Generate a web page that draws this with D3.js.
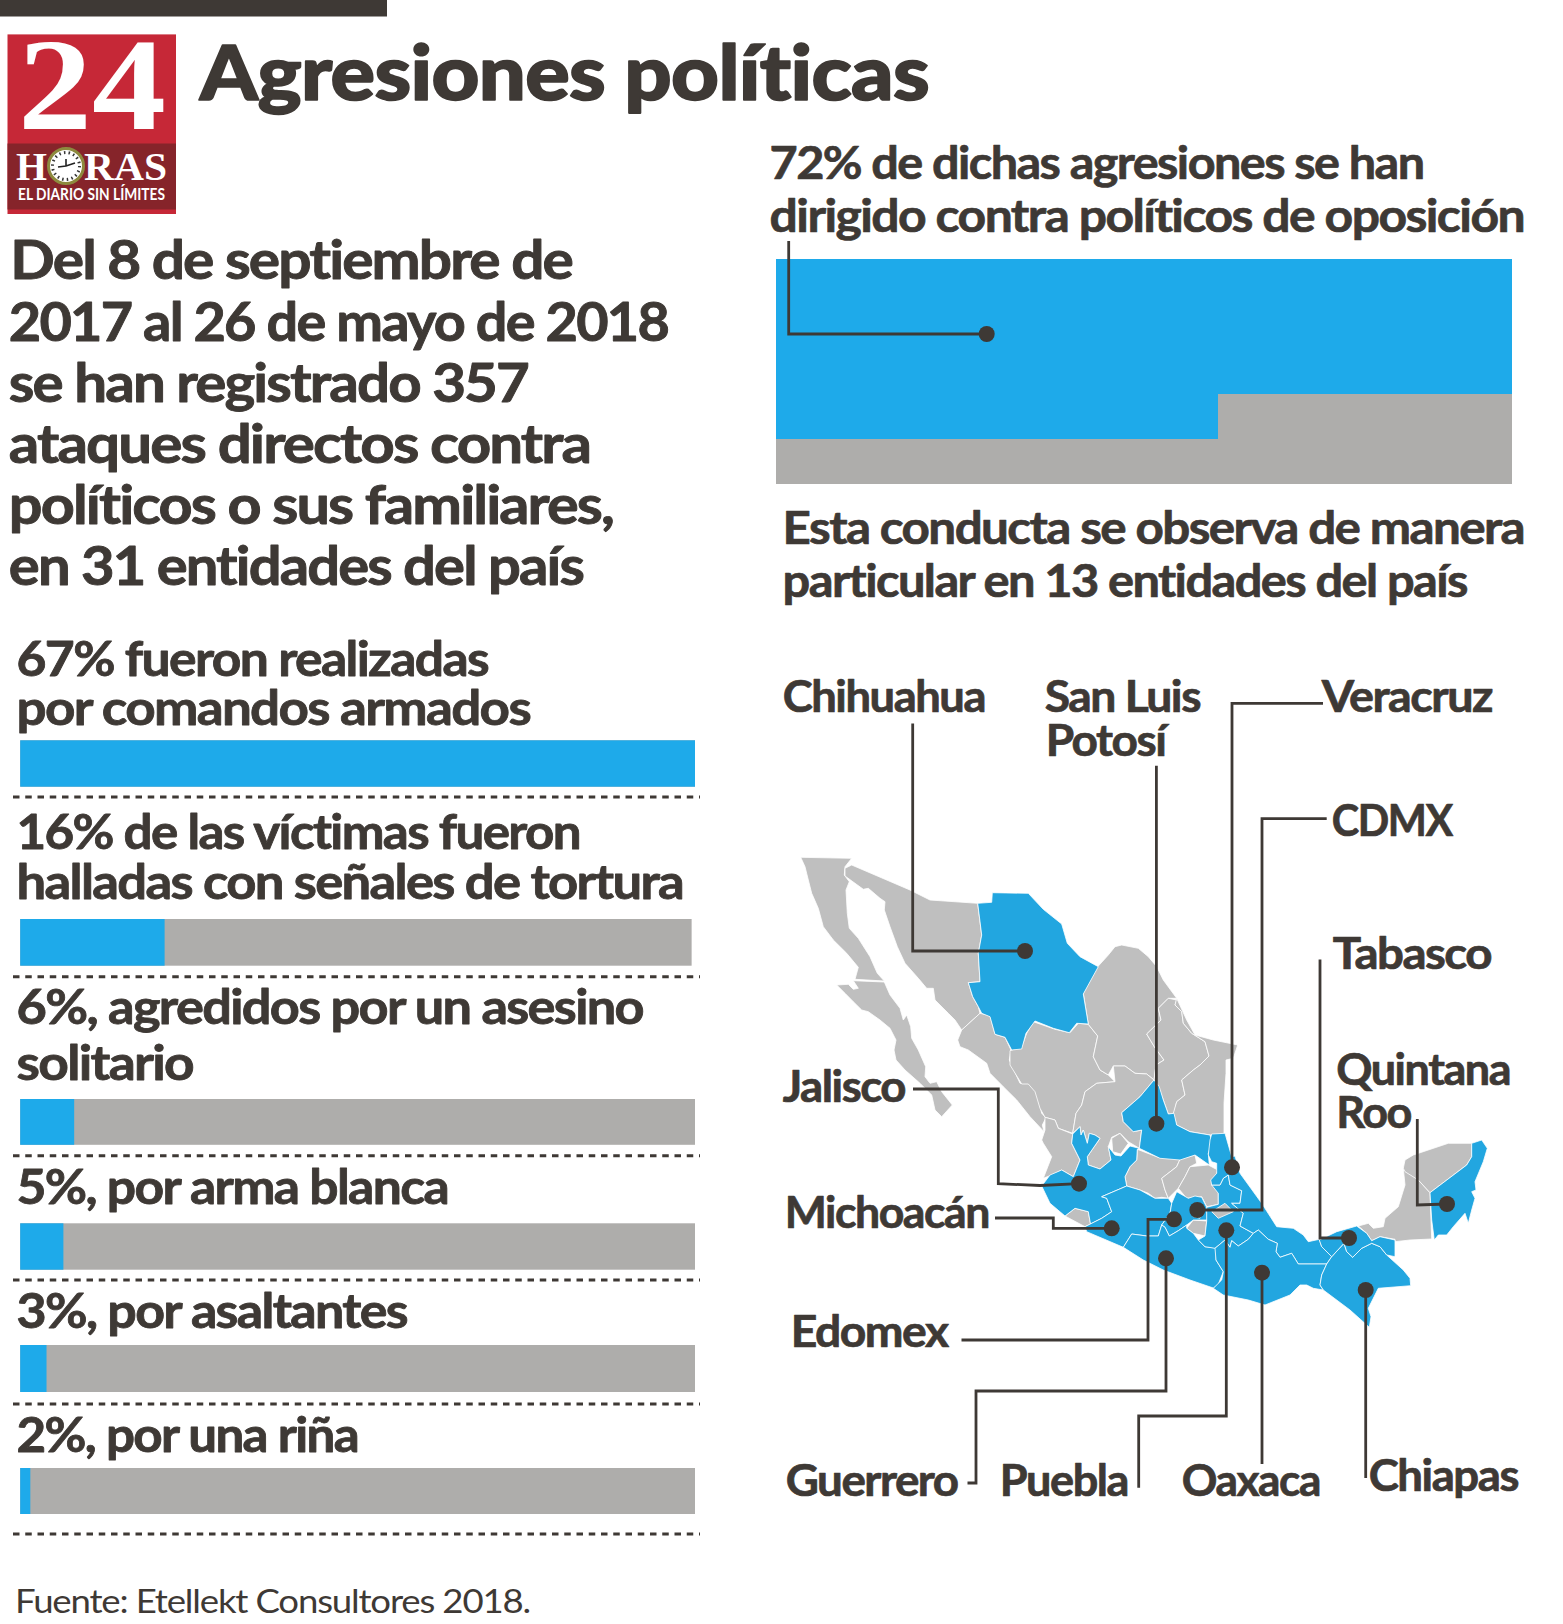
<!DOCTYPE html>
<html>
<head>
<meta charset="utf-8">
<script src="https://d3js.org/d3.v7.min.js"></script>
<style>
  html, body { margin: 0; padding: 0; background: #fff; }
  svg { display: block; }
  text { font-family: Lato, "Open Sans", sans-serif; fill: #3e3935; font-kerning: normal; font-variant-ligatures: none; }
</style>
</head>
<body>
<div id="chart"></div>
<script>
// ---- data ----

// left column: labels, blue share of each bar, length of the grey track
const barLabels = [
  ['67% fueron realizadas', 'por comandos armados'],
  ['16% de las víctimas fueron', 'halladas con señales de tortura'],
  ['6%, agredidos por un asesino', 'solitario'],
  ['5%, por arma blanca'],
  ['3%, por asaltantes'],
  ['2%, por una riña']
];
const barBlue = [100, 21.4, 8, 6.4, 3.9, 1.5];
const barTrack = [100, 99.5, 100, 100, 100, 100];

// stepped block: the two column widths and how much of each is blue (= 72%)
const blockWidth = [60, 40];
const blockBlue = [80, 60];

const introLines = ['Del 8 de septiembre de', '2017 al 26 de mayo de 2018', 'se han registrado 357',
  'ataques directos contra', 'políticos o sus familiares,', 'en 31 entidades del país'];
const headLines = ['72% de dichas agresiones se han', 'dirigido contra políticos de oposición'];
const subLines = ['Esta conducta se observa de manera', 'particular en 13 entidades del país'];

// states marked on the map, each one gets a leader
const markedStates = ['Chihuahua', 'San Luis Potosí', 'Veracruz', 'CDMX', 'Tabasco', 'Quintana Roo', 'Jalisco',
  'Michoacán', 'Edomex', 'Guerrero', 'Puebla', 'Oaxaca', 'Chiapas'];

// hand traced outlines, units are px from the map origin
const stateNames = ['Baja California', 'Baja California Sur', 'Sonora', 'Sinaloa', 'Durango', 'Coahuila', 'Nuevo León',
  'Tamaulipas', 'Zacatecas', 'Aguascalientes', 'Nayarit', 'Guanajuato', 'Querétaro', 'Hidalgo', 'Colima', 'Morelos',
  'Campeche', 'Yucatán', 'Chihuahua', 'San Luis Potosí', 'Jalisco', 'Michoacán', 'Edomex', 'Guerrero', 'Puebla',
  'Veracruz', 'Oaxaca', 'Chiapas', 'Tabasco', 'Quintana Roo', 'CDMX', 'Tlaxcala'];
const stateRings = [
  [[20.7,7.3],[71.7,8.3],[65,16.7],[64.3,25],[69.3,31.7],[66,40],[67.3,63.3],[69.3,78.3],[78.3,88.3],[90,106.7],[97.3,123.3],[104.3,131],[75,129.3],[78.3,117.3],[66.7,103.3],[53.3,90],[43.3,76.7],[38.3,58.3],[31.7,43.3],[28.3,30],[25,16.7]],
  [[56.7,135],[68.3,134.3],[73.3,139.3],[78.3,138.3],[73.3,130.7],[104.3,132],[110,145],[120,158.3],[123.3,170],[126.7,165],[130.7,176.7],[131.7,188.3],[138.3,200],[145.7,216.7],[145,226.7],[150,233.3],[156.7,231.7],[161.7,241.7],[172.3,255],[161.7,266.7],[155,260],[151.7,245],[140,233.3],[125,220],[116,210],[114,200],[116,190],[110,178.3],[100,170],[88.3,161.7],[81.7,160],[73.3,151.7],[65,143.3]],
  [[71.7,15],[65,18.3],[65,26],[83.3,39.3],[88.3,38.3],[100,48.3],[105,51.7],[104.3,60],[110,76.7],[117.3,96.7],[125,113.3],[138.3,128.3],[146.7,138.3],[153.3,138.3],[155,150],[168.3,163.3],[175,170],[181.7,180],[200,163.3],[198.3,156.7],[192.7,146.7],[188.3,132.7],[200,131.7],[198.3,103.3],[201.7,85],[197.7,53.3],[150,50],[130,40]],
  [[200,163.3],[210,165.7],[215,184.3],[225,187.3],[231,200],[229.3,210],[240,233.3],[248.3,233.3],[256.7,241.7],[261.7,263.3],[266,267.7],[262.3,275],[264,281.7],[250,266.7],[236.7,250],[223.3,236.7],[210,223.3],[206.7,213.3],[188.3,200],[180,196.7],[177.7,190],[181.7,180]],
  [[253.3,171.7],[275,179.3],[290,182.7],[298.3,173.3],[308.3,174.3],[317.7,186],[313.3,206.7],[320,220],[328.3,225],[335,231.7],[316.7,233.3],[305,241.7],[301.7,255],[296,263.3],[292.7,283.3],[278.3,278.3],[275,270],[265,267.3],[260,258.3],[255,241.7],[248.3,234],[241.7,234],[230,215],[230,200.7],[241.7,196.7],[246.7,183.3]],
  [[317.7,116.7],[328.3,105],[335,96.7],[341.7,95],[358.3,98.3],[368.3,106.7],[376.7,116.7],[383.3,130],[396.7,148.3],[388.3,148.3],[378.3,158.3],[381,170],[366.7,184],[374.3,196.7],[384,210],[376,215],[374,230],[366.7,224],[355,223.3],[345,216],[333.3,216],[328.3,225],[320,220],[313.3,206.7],[317.7,186],[308.3,174.3],[303.3,143.3]],
  [[388.3,148.3],[396.7,150],[395,155],[401.7,161.7],[403.3,173.3],[411.7,183.3],[425,191.7],[429,206],[420,215],[413.3,220],[401.7,230],[405,245],[396.7,251.7],[394,263.3],[388.3,264],[383.3,250],[378.3,236.7],[374,230],[376,215],[384,210],[374.3,196.7],[366.7,184],[381,170],[378.3,158.3]],
  [[396.7,148.3],[406.7,170],[415,185],[433.3,190],[457.7,195],[453.3,208.3],[446,210],[446,223.3],[444,253.3],[444,284],[430,285],[410,281.7],[396.7,275],[393.3,263.3],[396.7,251.7],[405,245],[401.7,230],[413.3,220],[420,215],[429,206],[425,191.7],[411.7,183.3],[403.3,173.3],[401.7,161.7],[395,155]],
  [[333.3,216],[345,216],[355,223.3],[366.7,224],[374,230],[360,246.7],[341.7,262.7],[343.3,271.7],[353.3,281.7],[361.7,280],[359.3,298.3],[348.3,291.7],[340,283.3],[331.7,287.3],[328.3,296.7],[331,310],[320,319],[308.3,315],[307.3,306.7],[320,288.3],[315,285],[309.3,283.3],[307.3,293.3],[303.3,280],[301,285],[300,276.7],[292.7,283.3],[296,263.3],[301.7,255],[305,241.7],[316.7,233.3],[335,231.7]],
  [[331.7,288.3],[340,283.3],[348.3,293.3],[340.7,304],[332.7,301.7]],
  [[265,267.3],[275,270],[278.3,278.3],[292.7,284],[291.7,293.3],[300,310],[293.3,326.7],[281.7,320],[271.7,325],[263.3,328.3],[271.7,306.7],[263.3,293.3],[261.7,290],[265,280]],
  [[357.3,299.3],[378.3,307.3],[388.3,305],[400,309.3],[396.7,316.7],[381.7,328.3],[385,340],[388.3,348.3],[381.7,347.3],[375,348.3],[368.3,343.3],[360,340],[346.7,336],[345,326.7],[350,316.7],[356.7,310]],
  [[381.7,328.3],[396.7,316.7],[400,309.3],[415,305],[416.7,313.3],[410,316.7],[405,326.7],[398.3,338.3],[393.3,343.3],[388.3,348.3],[385,340]],
  [[398.3,338.3],[405,326.7],[410,316.7],[428.3,315],[437.7,320],[435,328.3],[431.7,335],[440,335],[443.3,326.7],[438.3,343.3],[438.3,354.3],[426.7,356.7],[421.7,346.7],[406.7,348.3]],
  [[285,366],[295,358.3],[308.3,361.7],[310.7,375],[305,376.7]],
  [[406.7,378.3],[413.3,370],[426.7,371],[425,386],[413.3,383.3]],
  [[578.3,376],[588.3,373.3],[593.3,378.3],[603.3,376.7],[605,368.3],[618.3,356.7],[625,335],[623.3,318.3],[638.3,330],[650,342.7],[651.7,389],[630,390],[615,391.7],[615,389.3],[600,386.7],[591.7,390.7],[586.7,383.3]],
  [[623.3,318.3],[625,310],[633.3,305],[668.3,293.3],[691.7,293.3],[691.7,306.7],[686.7,315],[650,342.7],[638.3,330],[625,321.7]],
  [[197.7,53.3],[211.7,52.3],[212.3,42.7],[248.3,43.3],[263.3,59.3],[281.7,74],[287.3,93.3],[300,106.7],[318.3,116.7],[303.3,144],[308.3,174],[296.7,173.3],[289.3,182.7],[273.3,178.3],[255,171],[246,183.3],[241.7,199],[231.7,200],[225,187.3],[215,184.3],[210,166.7],[201.7,163.3],[198.3,156.7],[192.7,146.7],[188.3,132.7],[200,131.7],[198.3,103.3],[201.7,85]],
  [[374,230],[379.3,236.7],[383.3,250],[388.3,264],[394,263.3],[396.7,275],[410,281.7],[430,285],[432,293.3],[428.3,303.3],[429.3,315],[415,305],[400,310],[380,308.3],[359.3,298.3],[361.7,280],[353.3,281.7],[343.3,271.7],[341.7,262.7],[360,246.7]],
  [[270,325],[281.7,320],[293.3,326.7],[300,310],[291.7,293.3],[292.7,284],[300,276.7],[301,285],[303.3,280],[307.3,293.3],[309.3,283.3],[315,285],[320,288.3],[307.3,306.7],[308.3,315],[320,319],[331,310],[328.3,296.7],[335,305],[341,306],[350,296],[359.3,298.3],[357.3,299.3],[356.7,310],[350,316.7],[345,326.7],[346.7,336],[321.7,346.7],[326.7,348.3],[331.7,361.7],[321.7,368.3],[305,376.7],[310.7,375],[308.3,361.7],[295,358.3],[285,366],[270,353.3],[261.7,336]],
  [[321.7,346.7],[346.7,336],[360,340],[375,348.3],[388.3,348.3],[391.7,353.3],[390,363.3],[381.7,375],[378.3,386],[366.7,386],[351.7,384],[343.3,397.3],[306.7,381.7],[305,376.7],[321.7,368.3],[331.7,361.7],[326.7,348.3]],
  [[391.7,353.3],[396.7,341.7],[408.3,348.3],[415,346],[421.7,347.3],[426.7,357.3],[427.3,370],[413.3,370],[406.7,375],[398.3,380.7],[389.3,386],[385,377.3],[381.7,375],[390,363.3]],
  [[343.3,397.3],[351.7,384],[366.7,386],[378.3,386],[381.7,375],[385,377.3],[389.3,386],[398.3,380.7],[406.7,375],[406.7,378.3],[413.3,383.3],[418.3,390],[425,396.7],[436,398],[436,410],[443.3,421.7],[438,435],[433.3,438],[410,430],[383.3,420],[363.3,410]],
  [[431.7,335],[440,335],[443.3,328.3],[448.3,325],[450,335],[461.7,340.7],[460,353.3],[451.7,353.3],[463.3,363.3],[460,376],[473.3,383.3],[468.3,389.3],[458.3,396],[451.7,390.7],[450,397.3],[445,390],[435,398.3],[425,396.7],[418.3,390],[425,386],[426.7,371],[426.7,357.3],[438.3,354.3],[438.3,343.3]],
  [[431.7,284],[445,283.3],[451.7,306.7],[455,306],[460,323.3],[481.7,353.3],[496.7,376.7],[513.3,378.3],[523.3,385],[528.3,391.7],[539.3,389.3],[541.7,396.7],[551.7,406.7],[546.7,414],[518.3,414],[511.7,403.3],[500,407.3],[496,401.7],[497.3,393.3],[488.3,389.3],[478.3,380],[473.3,383.3],[460,376],[463.3,363.3],[451.7,353.3],[460,353.3],[461.7,340.7],[450,335],[448.3,325],[443.3,328.3],[440,335],[431.7,335],[430.7,330],[436.7,323.3],[436.7,313.3],[431.7,311.7],[428.3,305],[430,290]],
  [[435,398.3],[445,390],[450,397.3],[451.7,390.7],[458.3,396],[468.3,389.3],[473.3,383.3],[478.3,380],[488.3,389.3],[497.3,393.3],[496,401.7],[500,407.3],[511.7,403.3],[518.3,414],[546.7,414],[541.7,425],[540,435],[543.3,440],[533.3,438.3],[526.7,435],[520,435],[510,445],[485,455],[468.3,450],[443.3,445],[433.3,438.3],[441.7,430],[443.3,421.7],[436,410]],
  [[546.7,414],[551.7,406.7],[564,393.3],[566.7,401.7],[572.7,407.3],[581.7,398.3],[591.7,393.3],[600,396.7],[606.7,405],[623.3,420],[630,428.3],[630.7,435.7],[598.3,438.3],[588.3,458.3],[591,466.7],[589.3,477.3],[570,460],[543.3,440],[540,435],[541.7,425]],
  [[539.3,390],[556.7,381.7],[576.7,376],[586.7,383.3],[591.7,390.7],[600,386.7],[615,390],[615,406.7],[606.7,405],[600,396.7],[591.7,393.3],[581.7,398.3],[572.7,407.3],[566.7,401.7],[564,393.3],[551.7,406.7],[541.7,396.7]],
  [[691.7,293.3],[701.7,290],[707.3,298.3],[703.3,311.7],[695,331.7],[696,340],[691.7,341.7],[695,348.3],[691.7,360],[688.3,373.3],[685,363.3],[673.3,376.7],[666.7,385],[658.3,385],[654.3,390],[651.7,370],[650,342.7],[686.7,315],[691.7,306.7]],
  [[412.3,356.7],[420,355],[423.3,360],[420,368.3],[413.3,366.7]],
  [[431.7,361.7],[445,353.3],[453.3,361.7],[438.3,368.3]]
];

// ---- layout ----
const W = 1563, H = 1624;
const ink = '#3e3935', barBlueCol = '#1eaaea', barGrey = '#aeadab', mapBlue = '#22a6e0', mapGrey = '#bfbfbf';

// baselines and right edges of the text lines
const introY = [278.6, 340.7, 401.6, 462.4, 523.7, 584], introEnd = [572, 668, 528, 590, 613, 583];
const headY = [178, 231], headEnd = [1423.5, 1524];
const subY = [543, 596], subEnd = [1524, 1467];
const rowLabelY = [[675, 724], [848.6, 898], [1023, 1079], [1203.5], [1327], [1451.7]];
const rowLabelEnd = [[488, 530], [580, 683], [643, 193], [448], [407], [358]];
const barTop = [740.3, 919, 1099, 1223.3, 1345, 1468], barBottom = [786.7, 965.7, 1144.8, 1269.7, 1392, 1514];
const dashY = [797, 976.8, 1155.8, 1280, 1404, 1534];

// label lines of the map: [text, x0, x1, baseline], one entry per state (same order as markedStates)
const mapLabelPos = [
  [['Chihuahua', 784, 985, 711]],
  [['San Luis', 1046, 1200, 711], ['Potosí', 1047, 1165.5, 755]],
  [['Veracruz', 1323, 1492, 711]],
  [['CDMX', 1333, 1452, 835]],
  [['Tabasco', 1334, 1491, 968]],
  [['Quintana', 1337.5, 1510, 1084], ['Roo', 1337.5, 1411, 1127.6]],
  [['Jalisco', 784, 905, 1101.6]],
  [['Michoacán', 786, 989, 1227]],
  [['Edomex', 792, 947.6, 1346]],
  [['Guerrero', 787, 957.6, 1495]],
  [['Puebla', 1001, 1128, 1495]],
  [['Oaxaca', 1183, 1320, 1495]],
  [['Chiapas', 1370, 1518, 1490]]
];
// leader of each state, the last point carries the dot
const leaders = [
  [[912.7, 723.4], [912.7, 951], [1025, 951]],
  [[1156.4, 765.7], [1156.4, 1123.7]],
  [[1323, 703.3], [1232, 703.3], [1232, 1167.3]],
  [[1326.7, 818.7], [1262, 818.7], [1262, 1210], [1197.3, 1210]],
  [[1320, 959.6], [1320, 1238], [1349, 1238]],
  [[1417.3, 1119], [1417.3, 1205], [1447, 1204]],
  [[913, 1089], [998.3, 1089], [998.3, 1183.7], [1040, 1185.5], [1079, 1183.7]],
  [[995, 1218], [1053.3, 1218], [1053.3, 1228.3], [1111.7, 1228.3]],
  [[961.5, 1340], [1148, 1340], [1148, 1219.3], [1174, 1219.3]],
  [[967.5, 1483], [976, 1483], [976, 1391], [1166, 1391], [1166, 1258.3]],
  [[1138.7, 1487.8], [1138.7, 1416], [1226.3, 1416], [1226.3, 1230.3]],
  [[1262, 1464], [1262, 1272.7]],
  [[1365.7, 1478], [1365.7, 1290]]
];

// ---- drawing ----
const svg = d3.select('#chart').append('svg').attr('width', W).attr('height', H);

// text stretched to the measured width, the original has wide glyphs set tight.
// a thin stroke of the text colour gets it closer to the heavier weight
function fitText(g, str, x0, x1, y, size, weight, heavy, tight) {
  const start = x0 - size * 0.03;
  return g.append('text')
    .attr('x', start).attr('y', y + 0.6)
    .attr('font-size', size).attr('font-weight', weight || 700)
    .attr('textLength', x1 - start).attr('lengthAdjust', 'spacingAndGlyphs')
    .style('letter-spacing', (tight === undefined ? -0.032 : tight) + 'em')
    .style('stroke', heavy ? ink : 'none').style('stroke-width', heavy || 0)
    .style('stroke-linejoin', 'round')
    .text(str);
}

svg.append('rect').attr('width', 387).attr('height', 16.5).attr('fill', ink);

// logo
const logo = svg.append('g');
logo.append('rect').attr('x', 7.5).attr('y', 34.4).attr('width', 168.5).attr('height', 179.6).attr('fill', '#c62837');
logo.append('rect').attr('x', 7.5).attr('y', 143.5).attr('width', 168.5).attr('height', 66).attr('fill', '#86242a');
function logoText(str, x0, x1, y, size, family, weight) {
  logo.append('text').attr('x', x0).attr('y', y)
    .attr('font-size', size).attr('font-weight', weight)
    .attr('textLength', x1 - x0).attr('lengthAdjust', 'spacingAndGlyphs')
    .style('font-family', family).style('fill', '#fff').text(str);
}
logoText('24', 18, 166, 129, 132, '"Liberation Serif", serif', 700);
logoText('H', 16, 47, 180, 40, '"Liberation Serif", serif', 700);
logoText('RAS', 84, 167, 180, 40, '"Liberation Serif", serif', 700);
logoText('EL DIARIO SIN LÍMITES', 18, 165, 199.6, 17, 'Lato, sans-serif', 700);
logo.append('circle').attr('cx', 66).attr('cy', 166).attr('r', 17.5).attr('fill', '#fff').attr('stroke', '#8d8a3e').attr('stroke-width', 3);
logo.append('circle').attr('cx', 66).attr('cy', 166).attr('r', 13.5).attr('fill', 'none').attr('stroke', '#333').attr('stroke-width', 3).attr('stroke-dasharray', '1.5 3.2');
logo.append('path').attr('d', 'M58 167L66 166L75 163M66 166L66 159').attr('stroke', '#222').attr('stroke-width', 1.6).attr('fill', 'none');

fitText(svg, 'Agresiones políticas', 202, 929, 99, 76, 900, 1.6, -0.008);

introLines.forEach((l, i) => fitText(svg, l, i == 0 ? 12 : 10.5, introEnd[i], introY[i], 54, 700, 0.9));

// left bars
const x = d3.scaleLinear().domain([0, 100]).range([20.2, 695]);
const rows = svg.append('g').selectAll('g').data(barLabels).join('g');
rows.append('rect')
  .attr('x', x(0)).attr('y', (d, i) => barTop[i])
  .attr('width', (d, i) => x(barTrack[i]) - x(0))
  .attr('height', (d, i) => barBottom[i] - barTop[i])
  .attr('fill', barGrey);
rows.append('rect')
  .attr('x', x(0)).attr('y', (d, i) => barTop[i])
  .attr('width', (d, i) => x(barBlue[i]) - x(0))
  .attr('height', (d, i) => barBottom[i] - barTop[i])
  .attr('fill', barBlueCol);
rows.each(function(d, i) {
  d.forEach((l, j) => fitText(d3.select(this), l, 18, rowLabelEnd[i][j], rowLabelY[i][j], 48, 700, 0.8));
});
svg.append('g').selectAll('line').data(dashY).join('line')
  .attr('x1', 13).attr('x2', 700).attr('y1', d => d).attr('y2', d => d)
  .attr('stroke', ink).attr('stroke-width', 3).attr('stroke-dasharray', '6.5 5.75');

fitText(svg, 'Fuente: Etellekt Consultores 2018.', 16, 530, 1612.7, 33, 400);

// right block, stepped share of the 72%
headLines.forEach((l, i) => fitText(svg, l, 771, headEnd[i], headY[i], 46, 700, 0.7));
subLines.forEach((l, i) => fitText(svg, l, 784, subEnd[i], subY[i], 46, 700, 0.7));

const blockX = d3.scaleLinear().domain([0, 100]).range([776, 1512]);
const blockY = d3.scaleLinear().domain([0, 100]).range([258.5, 483.6]);
const colStart = i => d3.sum(blockWidth.slice(0, i));
const blockG = svg.append('g').attr('shape-rendering', 'crispEdges');
blockG.append('rect')
  .attr('x', blockX(0)).attr('y', blockY(0))
  .attr('width', blockX(100) - blockX(0)).attr('height', blockY(100) - blockY(0))
  .attr('fill', barGrey);
blockG.selectAll('rect.blue').data(blockWidth).join('rect')
  .attr('class', 'blue')
  .attr('x', (d, i) => blockX(colStart(i))).attr('y', blockY(0))
  .attr('width', (d, i) => blockX(colStart(i) + d) - blockX(colStart(i)))
  .attr('height', (d, i) => blockY(blockBlue[i]) - blockY(0))
  .attr('fill', barBlueCol);

const line = d3.line();
svg.append('path').attr('d', line([[788.7, 241], [788.7, 334], [986.7, 334]]))
  .attr('fill', 'none').attr('stroke', ink).attr('stroke-width', 2.8);
svg.append('circle').attr('cx', 986.7).attr('cy', 334).attr('r', 8).attr('fill', ink);

// map
const projection = d3.geoIdentity().translate([780, 850]);
const mapPath = d3.geoPath(projection);
const states = stateNames.map((name, i) => ({
  type: 'Feature',
  properties: { name: name },
  geometry: { type: 'Polygon', coordinates: [stateRings[i].concat([stateRings[i][0]])] }
}));
svg.append('g').selectAll('path').data(states).join('path')
  .attr('d', mapPath)
  .attr('fill', d => markedStates.includes(d.properties.name) ? mapBlue : mapGrey)
  .attr('stroke', '#fff').attr('stroke-width', 0.8).attr('stroke-linejoin', 'round');

// leaders and labels
const marks = svg.append('g').selectAll('g').data(markedStates).join('g');
marks.append('path').attr('d', (d, i) => line(leaders[i]))
  .attr('fill', 'none').attr('stroke', ink).attr('stroke-width', 2.8);
marks.append('circle')
  .attr('cx', (d, i) => leaders[i][leaders[i].length - 1][0])
  .attr('cy', (d, i) => leaders[i][leaders[i].length - 1][1])
  .attr('r', 8).attr('fill', ink);
marks.each(function(d, i) {
  mapLabelPos[i].forEach(p => fitText(d3.select(this), p[0], p[1], p[2], p[3], 43, 700, 0.7));
});
</script>
</body>
</html>
